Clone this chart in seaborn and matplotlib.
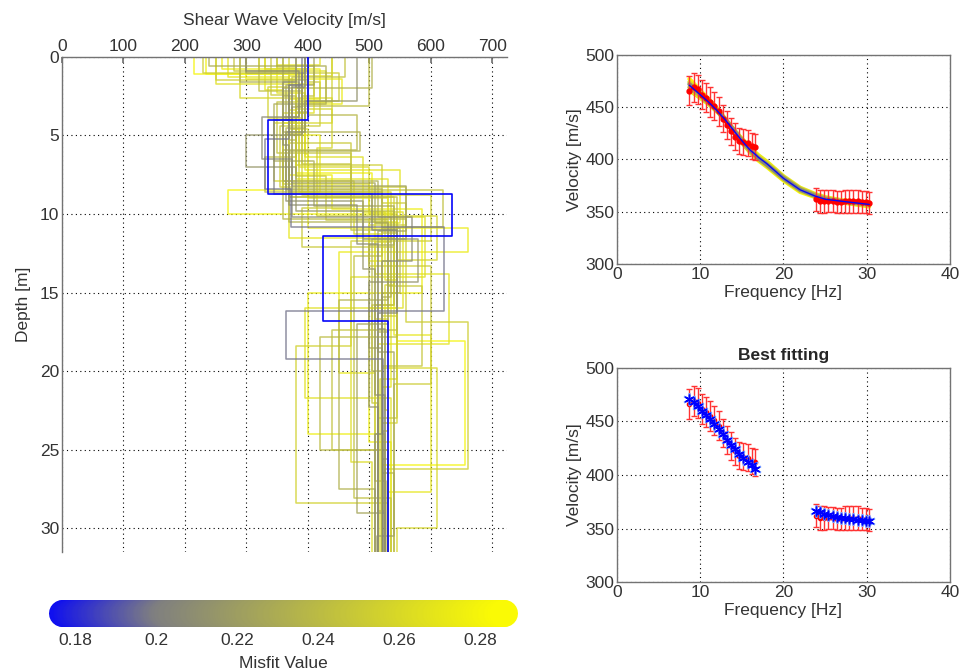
import numpy as np
import pandas as pd
import matplotlib
matplotlib.use("Agg")
import matplotlib.pyplot as plt
import seaborn as sns
from matplotlib.colors import LinearSegmentedColormap, Normalize
from matplotlib.collections import LineCollection

# Perfiles de velocidad (interfaces en m, velocidades por capa en m/s)
prof_z = [
    [1.9, 4.0, 8.7, 11.0, 16.3],
    [0.9, 3.8, 6.5, 10.2, 13.0, 24.0],
    [1.6, 5.6, 9.4, 11.9, 17.3],
    [1.8, 5.2, 8.4, 10.8, 16.2, 19.2],
    [2.8, 4.8, 9.2, 11.6, 14.3, 22.3],
    [1.0, 5.0, 7.0, 9.8, 13.5, 21.5],
    [0.6, 3.0, 6.6, 9.5, 12.0, 18.5],
    [2.0, 4.8, 6.0, 10.5, 15.5, 27.5],
    [1.5, 3.7, 5.9, 10.3, 11.6, 20.0],
    [3.1, 6.4, 8.6, 11.2, 17.8, 25.0],
    [1.1, 4.2, 8.5, 10.0, 18.1, 26.0],
    [0.8, 2.7, 7.5, 9.7, 15.0, 24.0],
    [1.4, 3.0, 6.2, 10.9, 12.4, 20.1],
    [2.1, 5.0, 8.6, 11.5, 17.7, 27.7],
    [0.5, 2.3, 7.2, 10.6, 13.8, 18.3],
    [1.7, 3.6, 8.1, 9.9, 16.0, 21.7],
    [1.2, 4.6, 9.0, 10.2, 14.0, 25.8],
    [2.6, 4.2, 7.9, 11.3, 19.8, 30.0],
    [0.7, 3.3, 5.8, 10.1, 12.9, 23.3],
    [1.9, 3.9, 8.8, 11.7, 18.4, 28.4],
    [1.0, 2.8, 6.9, 9.3, 16.9, 26.2],
    [1.6, 4.4, 8.3, 10.7, 13.3, 20.8],
    [2.4, 5.5, 9.6, 12.1, 15.8, 22.0],
    [0.9, 3.5, 7.6, 10.4, 14.6, 19.7],
    [1.3, 2.9, 6.1, 11.0, 17.4, 25.0],
    [2.2, 4.9, 8.5, 10.8, 12.7, 28.1],
    [1.0, 3.2, 8.0, 10.6, 17.0, 29.0],
    [1.5, 4.1, 8.9, 11.0, 16.5, 23.0],
    [0.8, 3.0, 7.0, 10.0, 14.5, 22.5],
    [2.0, 4.5, 8.4, 10.9, 15.0, 26.5],
    [1.3, 3.4, 7.8, 10.3, 13.0, 21.0],
    [0.6, 2.5, 6.8, 9.8, 15.8, 27.0],
    [1.8, 4.0, 8.2, 11.1, 18.8, 30.5],
    [1.1, 3.6, 7.4, 10.5, 16.0, 24.5],
    [2.5, 5.3, 8.9, 11.4, 17.5, 28.9],
    [0.9, 2.9, 6.4, 9.9, 14.2, 20.5],
    [1.6, 3.8, 7.9, 10.2, 15.3, 25.6],
    [2.9, 4.6, 8.6, 11.8, 16.7, 23.8],
    [4.0, 8.7, 11.4, 16.8],
]
prof_v = [
    [395, 375, 345, 505, 545, 515],
    [300, 385, 325, 375, 570, 520, 510],
    [380, 360, 370, 480, 515, 525],
    [390, 370, 330, 372, 621, 364, 522],
    [480, 395, 365, 490, 580, 500, 515],
    [395, 390, 300, 380, 490, 510, 525],
    [240, 430, 345, 410, 540, 500, 520],
    [505, 360, 485, 370, 530, 450, 510],
    [360, 400, 480, 360, 560, 505, 520],
    [500, 380, 330, 520, 545, 420, 530],
    [215, 390, 360, 270, 545, 655, 520],
    [260, 420, 370, 440, 585, 400, 525],
    [300, 455, 395, 400, 660, 450, 510],
    [330, 360, 420, 370, 540, 600, 530],
    [420, 350, 395, 550, 510, 630, 515],
    [250, 410, 360, 500, 555, 395, 535],
    [440, 370, 400, 530, 590, 470, 505],
    [290, 440, 345, 475, 520, 610, 545],
    [350, 380, 440, 415, 610, 545, 520],
    [370, 335, 390, 600, 470, 380, 530],
    [230, 450, 380, 520, 560, 660, 525],
    [395, 420, 355, 560, 500, 600, 540],
    [340, 370, 470, 390, 540, 505, 515],
    [280, 400, 380, 430, 530, 585, 520],
    [460, 375, 350, 470, 545, 440, 530],
    [320, 390, 365, 620, 520, 475, 535],
    [300, 390, 375, 510, 530, 480, 525],
    [250, 380, 370, 540, 520, 545, 515],
    [330, 400, 385, 500, 540, 525, 530],
    [380, 395, 365, 520, 550, 520, 540],
    [270, 370, 380, 530, 500, 535, 520],
    [350, 410, 390, 470, 540, 510, 528],
    [410, 365, 375, 560, 515, 540, 512],
    [235, 395, 380, 505, 545, 500, 535],
    [360, 380, 370, 545, 530, 515, 525],
    [320, 430, 395, 490, 525, 545, 518],
    [290, 385, 360, 515, 535, 520, 530],
    [440, 375, 385, 535, 510, 530, 522],
    [400, 335, 635, 425, 530],
]
prof_misfit = [0.205, 0.210, 0.212, 0.200, 0.215, 0.218,
               0.232, 0.236, 0.240, 0.244,
               0.282, 0.278, 0.275, 0.272, 0.270, 0.268, 0.265, 0.262,
               0.260, 0.258, 0.256, 0.254, 0.252, 0.250, 0.248, 0.246,
               0.228, 0.255, 0.263, 0.238, 0.271, 0.249, 0.226, 0.279,
               0.242, 0.267, 0.233, 0.259,
               0.175]

# Curva de dispersion experimental
f_exp1 = [8.7, 9.2, 9.7, 10.2, 10.7, 11.2, 11.7, 12.2, 12.7, 13.2, 13.7, 14.2, 14.7, 15.2, 15.7, 16.2, 16.6]
v_exp1 = [466, 469, 467, 462, 459, 455, 451, 446, 439, 433, 427, 422, 418, 417, 416, 413, 412]
e_exp1 = [14, 14, 14, 14, 14, 14, 13.5, 13.5, 13, 13, 13, 13, 12.5, 12.5, 12.5, 12.5, 12.5]
f_exp2 = [23.9, 24.4, 24.9, 25.4, 25.9, 26.4, 26.9, 27.4, 27.9, 28.4, 28.9, 29.4, 29.9, 30.3]
v_exp2 = [362, 360, 360, 360, 360, 359, 359, 360, 360, 360, 360, 359, 359, 358]
e_exp2 = [11, 11, 11, 10.5, 10.5, 10.5, 10.5, 11, 11, 11, 11, 10.5, 10.5, 10.5]

# Mejor ajuste en las frecuencias experimentales
v_best1 = [471, 468, 464, 460, 456, 452, 448, 443, 438, 433, 428, 424, 420, 416, 412, 409, 406]
v_best2 = [366, 365, 364, 363, 362, 361, 360, 360, 359, 359, 358, 358, 357, 357]

# Curvas teoricas de los modelos
f_th = [8.7, 10, 11, 12, 13, 14, 15, 16, 16.6, 17, 18, 20, 22, 23.8, 25, 27, 30.3]
curves_th = [
    [477, 466, 458, 449, 439, 428, 417, 407, 402, 399, 393, 380, 369, 364, 361, 359, 355],
    [466, 459, 453, 446, 438, 429, 420, 412, 407, 404, 398, 384, 373, 367, 364, 361, 359],
    [474, 464, 456, 447, 437, 427, 416, 407, 403, 400, 394, 381, 370, 365, 362, 359, 356],
    [469, 461, 454, 447, 439, 429, 419, 410, 405, 402, 396, 383, 372, 366, 363, 360, 357],
    [472, 463, 455, 447, 438, 428, 418, 409, 404, 401, 395, 382, 371, 365, 362, 360, 357],
    [471, 462, 455, 447, 438, 428, 418, 409, 405, 402, 396, 382, 371, 365, 362, 360, 357],
]
curves_misfit = [0.285, 0.275, 0.262, 0.240, 0.210, 0.175]

cb_ticks = [0.18, 0.2, 0.22, 0.24, 0.26, 0.28]
vmin, vmax = 0.1733, 0.2894
max_depth = 31.5

sns.set_theme(style="white")
plt.rcParams['font.family'] = ['Liberation Sans', 'DejaVu Sans']
FS = 12.5

cmap = LinearSegmentedColormap.from_list(
    "misfit", [(0.0, (0, 0, 1)), (0.25, (0.5, 0.5, 0.5)), (1.0, (1, 1, 0))])
norm = Normalize(vmin=vmin, vmax=vmax)

grey = (0.45, 0.45, 0.45)
tick_col = (0.2, 0.2, 0.2)

fig = plt.figure(figsize=(9.61, 6.69), dpi=100)
ax = fig.add_axes([0.0645, 0.175, 0.463, 0.74])
ax1 = fig.add_axes([0.642, 0.6054, 0.3465, 0.3124])
ax2 = fig.add_axes([0.642, 0.130, 0.3465, 0.32])
cax = fig.add_axes([0.05, 0.0628, 0.489, 0.0404])


def style_axes(a, spines):
    for s in a.spines:
        a.spines[s].set_visible(s in spines)
        a.spines[s].set_color(grey)
        a.spines[s].set_linewidth(1.0)
    a.grid(True, color='black', linestyle=(0, (1, 3)), linewidth=0.8)
    a.tick_params(direction='in', length=4, color=grey, labelcolor=tick_col,
                  labelsize=FS, pad=2)


# --- Perfiles de Vs ---
order = np.argsort(prof_misfit)[::-1]
for i in order:
    z = [0] + prof_z[i] + [max_depth]
    v = prof_v[i]
    xs, ys = [], []
    for k in range(len(v)):
        xs += [v[k], v[k]]
        ys += [z[k], z[k + 1]]
    is_best = prof_misfit[i] == min(prof_misfit)
    ax.plot(xs, ys, color=cmap(norm(prof_misfit[i])),
            lw=1.2 if is_best else 1.1, alpha=1.0 if is_best else 0.8,
            zorder=3 if is_best else 2)

ax.set_xlim(0, 724)
ax.set_ylim(max_depth, 0)
ax.set_xticks(range(0, 800, 100))
ax.set_yticks(range(0, 35, 5))
ax.xaxis.tick_top()
ax.xaxis.set_label_position('top')
ax.set_xlabel('Shear Wave Velocity [m/s]', color=tick_col, fontsize=FS, labelpad=10)
ax.set_ylabel('Depth [m]', color=tick_col, fontsize=FS, labelpad=6)
style_axes(ax, ['left', 'top'])

# --- Curvas de dispersion ---
order_c = np.argsort(curves_misfit)[::-1]
for i in order_c:
    best = curves_misfit[i] == min(curves_misfit)
    sns.lineplot(x=f_th, y=curves_th[i], ax=ax1, color=cmap(norm(curves_misfit[i])),
                 lw=1.0 if best else 3.0, zorder=4 if best else 2, sort=False)

for f, v, e in [(f_exp1, v_exp1, e_exp1), (f_exp2, v_exp2, e_exp2)]:
    ax1.errorbar(f, v, yerr=e, fmt='.-', color='red', ecolor=(1, 0.2, 0.2),
                 ms=7, lw=1.2, elinewidth=1.0, capsize=2.5, zorder=3)

for a in (ax1, ax2):
    a.set_xlim(0, 40)
    a.set_ylim(300, 500)
    a.set_xticks([0, 10, 20, 30, 40])
    a.set_yticks([300, 350, 400, 450, 500])
    style_axes(a, ['left', 'right', 'top', 'bottom'])

# --- Mejor ajuste ---
asterisk = (6, 2, 0)
for f, v, e, b in [(f_exp1, v_exp1, e_exp1, v_best1), (f_exp2, v_exp2, e_exp2, v_best2)]:
    ax2.errorbar(f, v, yerr=e, fmt='.-', color='red', ecolor=(1, 0.2, 0.2),
                 ms=6, lw=1.0, elinewidth=1.0, capsize=2.5, zorder=2)
    df = pd.DataFrame({'f': f, 'v': b})
    sns.lineplot(data=df, x='f', y='v', ax=ax2, color=(0.45, 0.6, 1.0), lw=2.0,
                 marker=asterisk, ms=9, mec=(0.45, 0.6, 1.0), mew=1.2, zorder=3, sort=False)
    sns.lineplot(data=df, x='f', y='v', ax=ax2, color='blue', lw=1.0,
                 marker=asterisk, ms=7, mec='blue', mew=1.0, zorder=4, sort=False)

for a in (ax1, ax2):
    a.set_xlabel('Frequency [Hz]', color=tick_col, fontsize=FS, labelpad=2)
    a.set_ylabel('Velocity [m/s]', color=tick_col, fontsize=FS, labelpad=2)
ax2.set_title('Best fitting', fontsize=FS, fontweight='bold', pad=6)

# --- Barra de color redondeada ---
cax.set_xlim(vmin, vmax)
cax.set_ylim(0, 1)
bar_px = 0.489 * 961
r = (vmax - vmin) * 13.5 / bar_px
xs = np.linspace(vmin + r, vmax - r, 300)
segs = [[(xs[k], 0.5), (xs[k + 1], 0.5)] for k in range(len(xs) - 1)]
lc = LineCollection(segs, colors=cmap(norm(xs[:-1])), linewidths=0.0404 * 669 * 0.72,
                    capstyle='round')
cax.add_collection(lc)
for s in cax.spines.values():
    s.set_visible(False)
cax.set_yticks([])
cax.set_xticks(cb_ticks)
cax.set_xticklabels(['0.18', '0.2', '0.22', '0.24', '0.26', '0.28'])
cax.tick_params(length=0, labelcolor=tick_col, labelsize=FS, pad=4)
cax.set_xlabel('Misfit Value', color=tick_col, fontsize=FS, labelpad=6)

fig.savefig('out.png', dpi=100, facecolor='white')
